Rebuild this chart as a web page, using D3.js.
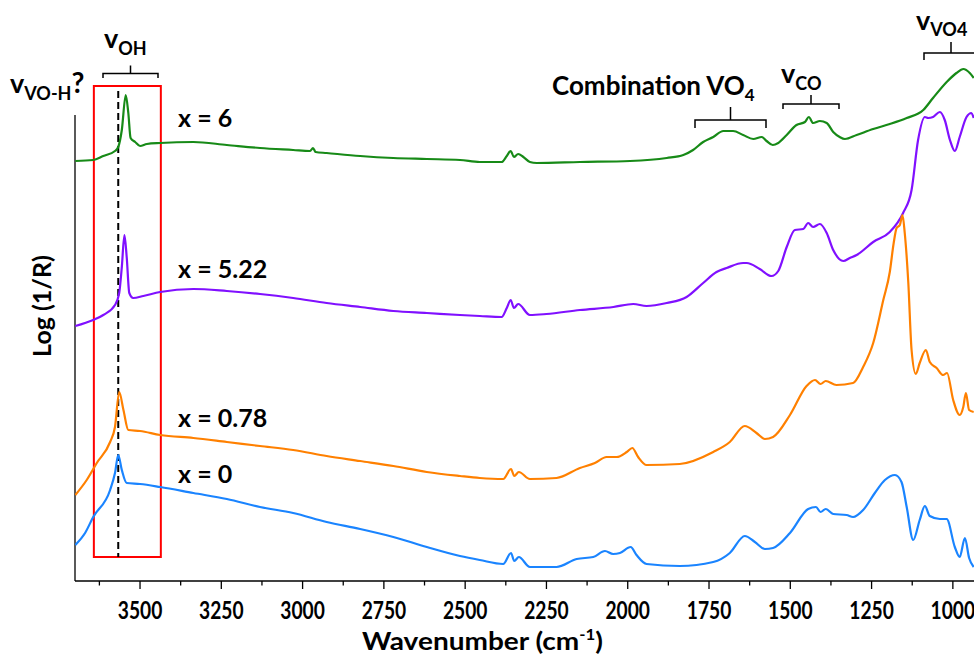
<!DOCTYPE html>
<html><head><meta charset="utf-8">
<script src="https://cdn.jsdelivr.net/npm/d3@7/dist/d3.min.js"></script>
<style>
html,body{margin:0;padding:0;background:#fff;}
svg{display:block;font-family:Lato,"Open Sans",sans-serif;font-weight:bold;}
</style></head><body>
<svg id="chart" width="974" height="657"></svg>
<script>
// ---- data (wavenumber cm-1, Log(1/R) offset, arbitrary units) ----
const seriesNames = ["x = 6", "x = 5.22", "x = 0.78", "x = 0"];
const seriesColors = ["#178a17", "#8010ff", "#ff8000", "#1a84ff"];

const green = [[3699,420],[3644,421],[3613,425],[3577,430],[3567,434],[3556,451],[3544,486],[3536,468],[3529,443],[3515,439],[3500,435],[3479,437],[3438,438],[3336,439],[3233,436],[3131,433],[3029,431],[2977,430],[2968,433],[2960,429],[2926,428],[2823,425],[2721,423],[2618,422],[2516,421],[2455,419],[2388,419],[2372,425],[2360,430],[2350,424],[2337,427],[2321,424],[2301,419],[2280,418],[2147,419],[1993,420],[1880,423],[1829,426],[1799,431],[1768,439],[1737,444],[1706,450],[1676,450],[1645,446],[1614,442],[1588,444],[1573,440],[1554,436],[1537,438],[1511,446],[1481,456],[1455,459],[1443,464],[1430,458],[1409,460],[1388,458],[1368,449],[1348,444],[1332,442],[1296,446],[1245,452],[1194,457],[1142,463],[1091,471],[1061,483],[1019,499],[989,508],[968,512],[948,508],[936,503]];

const purple = [[3699,255],[3644,261],[3613,266],[3577,276],[3564,288],[3556,314],[3548,346],[3541,324],[3533,288],[3521,283],[3490,285],[3438,289],[3336,292],[3233,290],[3131,287],[3029,283],[2926,278],[2823,274],[2721,270],[2618,268],[2516,266],[2455,265],[2388,264],[2372,273],[2360,281],[2350,273],[2337,277],[2301,266],[2250,267],[2147,271],[2044,274],[1983,277],[1942,275],[1880,278],[1819,284],[1768,298],[1727,309],[1696,313],[1645,318],[1634,318],[1594,312],[1558,305],[1537,310],[1511,334],[1486,351],[1460,352],[1445,358],[1430,354],[1409,357],[1388,348],[1368,331],[1337,320],[1317,323],[1296,326],[1245,339],[1194,349],[1153,368],[1127,391],[1107,441],[1086,464],[1076,463],[1061,464],[1040,469],[1025,461],[1009,441],[994,430],[979,444],[958,464],[943,468],[936,463]];

const orange = [[3699,86],[3664,101],[3633,118],[3592,139],[3577,154],[3564,189],[3551,171],[3536,151],[3500,150],[3438,146],[3336,143],[3233,139],[3131,135],[3029,131],[2926,125],[2823,120],[2721,115],[2618,109],[2516,105],[2455,103],[2383,102],[2359,112],[2349,105],[2335,109],[2301,102],[2219,103],[2147,113],[2101,118],[2065,124],[2034,124],[2003,129],[1986,133],[1968,124],[1942,116],[1840,117],[1737,129],[1686,139],[1640,155],[1604,148],[1578,142],[1553,144],[1501,166],[1450,195],[1424,201],[1407,197],[1391,200],[1358,196],[1307,198],[1276,214],[1245,238],[1214,281],[1194,309],[1182,338],[1173,353],[1163,356],[1155,366],[1148,348],[1137,298],[1127,231],[1114,207],[1102,218],[1083,231],[1071,219],[1050,213],[1030,206],[1018,208],[999,181],[979,166],[968,174],[960,188],[950,171],[936,169]];

const blue = [[3699,36],[3669,48],[3644,64],[3592,91],[3577,108],[3567,126],[3556,111],[3541,98],[3500,97],[3438,94],[3336,88],[3233,82],[3131,74],[3029,68],[2926,59],[2823,52],[2721,44],[2618,34],[2516,25],[2455,21],[2383,17],[2359,28],[2349,20],[2335,24],[2301,14],[2219,14],[2157,22],[2106,24],[2070,30],[2045,27],[2024,28],[1991,34],[1973,26],[1942,17],[1840,15],[1737,19],[1686,28],[1640,45],[1609,39],[1578,32],[1553,33],[1501,48],[1445,72],[1421,74],[1407,69],[1391,72],[1368,67],[1327,66],[1307,64],[1276,71],[1240,88],[1209,101],[1178,106],[1158,99],[1142,74],[1122,41],[1102,61],[1086,75],[1071,65],[1040,62],[1019,62],[994,34],[979,24],[963,43],[950,23],[936,14]];

const seriesData = [green, purple, orange, blue];
const labelAnchors = [[3383,454],[3383,303],[3383,154],[3383,98]]; // series label positions (data units)
const xTicksMajor = [3500,3250,3000,2750,2500,2250,2000,1750,1500,1250,1000];
const xDomain = [3700, 935];
const yDomain = [0, 466];
const ohLine = 3567;           // dashed guide
const ohBox = [3642, 3436];    // red box (wavenumber span)

// ---- drawing ----
const svg = d3.select("#chart");
const m = {left:75, right:0, top:115, bottom:76};
const W = 974, H = 657;
const x = d3.scaleLinear().domain(xDomain).range([m.left, W - m.right]);
const y = d3.scaleLinear().domain(yDomain).range([H - m.bottom, m.top]);

svg.append("clipPath").attr("id","clip").append("rect")
  .attr("x", m.left).attr("y", 0).attr("width", W - m.left).attr("height", H);

// x axis
const minorTicks = d3.range(3625, 900, -250);
const gx = svg.append("g").attr("transform", `translate(0,${y(0)})`);
gx.append("line").attr("x1", m.left).attr("x2", W).attr("stroke","#000").attr("stroke-width",1.3);
gx.selectAll(".mj").data(xTicksMajor).join("line")
  .attr("x1", d=>x(d)).attr("x2", d=>x(d)).attr("y1",0).attr("y2",8)
  .attr("stroke","#000").attr("stroke-width",1.3);
gx.selectAll(".mn").data(minorTicks).join("line")
  .attr("x1", d=>x(d)).attr("x2", d=>x(d)).attr("y1",0).attr("y2",4.5)
  .attr("stroke","#000").attr("stroke-width",1.3);
gx.selectAll(".tl").data(xTicksMajor).join("text")
  .attr("transform", d=>`translate(${x(d)},38) scale(0.8,1)`)
  .attr("text-anchor","middle").attr("font-size",24).attr("fill","#000")
  .text(d=>d);
// x title
const xt = svg.append("text").attr("x",362).attr("y",650)
  .attr("textLength",241).attr("lengthAdjust","spacingAndGlyphs")
  .attr("font-size",25).attr("fill","#000");
xt.append("tspan").text("Wavenumber (cm");
xt.append("tspan").attr("font-size",15).attr("dy",-10).text("-1");
xt.append("tspan").attr("dy",10).text(")");

// y axis
svg.append("line").attr("x1", m.left).attr("x2", m.left).attr("y1", m.top).attr("y2", y(0))
  .attr("stroke","#000").attr("stroke-width",1.3);
svg.append("text").attr("transform","translate(51,306) rotate(-90)")
  .attr("text-anchor","middle").attr("font-size",25).attr("fill","#000").text("Log (1/R)");

// red box + dashed line
svg.append("rect").attr("x", x(ohBox[0])).attr("y", 86)
  .attr("width", x(ohBox[1]) - x(ohBox[0])).attr("height", 557 - 86)
  .attr("fill","none").attr("stroke","#ff0000").attr("stroke-width",2);
svg.append("line").attr("x1", x(ohLine)).attr("x2", x(ohLine)).attr("y1", 91).attr("y2", 557)
  .attr("stroke","#000").attr("stroke-width",2).attr("stroke-dasharray","7,4");

// curves
const line = d3.line().x(d=>x(d[0])).y(d=>y(d[1])).curve(d3.curveMonotoneX);
svg.append("g").attr("clip-path","url(#clip)").selectAll("path").data(seriesData).join("path")
  .attr("d", line).attr("fill","none")
  .attr("stroke",(d,i)=>seriesColors[i]).attr("stroke-width",2.2).attr("stroke-linejoin","round");

// series labels
svg.selectAll(".sl").data(seriesNames).join("text")
  .attr("x", (d,i)=>x(labelAnchors[i][0])).attr("y", (d,i)=>y(labelAnchors[i][1]))
  .attr("font-size",25).attr("fill","#000").text(d=>d);

// brackets
function bracket(x1, x2, yb, down, up){
  const xm = (x1+x2)/2;
  svg.append("path").attr("d",`M${x1},${yb+down}V${yb}H${x2}V${yb+down}M${xm},${yb}V${yb-up}`)
    .attr("fill","none").attr("stroke","#000").attr("stroke-width",1.5);
}
bracket(103, 158, 73.5, 4.5, 8);
bracket(695, 766, 120, 8, 13);
bracket(783, 839, 104, 5, 9);
bracket(924, 978, 53, 7, 11);

// annotation labels
function nu(xp, yb, sub, dySub, extra){
  const t = svg.append("text").attr("x",xp).attr("y",yb).attr("fill","#000");
  t.append("tspan").attr("font-size",27).text("v");
  t.append("tspan").attr("font-size",18).attr("dy",dySub).text(sub);
  if(extra){ t.append("tspan").attr("font-size",28).attr("dy",-dySub).text(extra); }
}
nu(104, 48, "OH", 7);
nu(10, 93, "VO-H", 7, "?");
nu(781, 83, "CO", 7);
nu(916, 30, "VO4", 6);

const ct = svg.append("text").attr("x",552).attr("y",95).attr("fill","#000").attr("font-size",26);
ct.append("tspan").text("Combination VO");
ct.append("tspan").attr("font-size",17).attr("dy",6).text("4");
</script>
</body></html>
